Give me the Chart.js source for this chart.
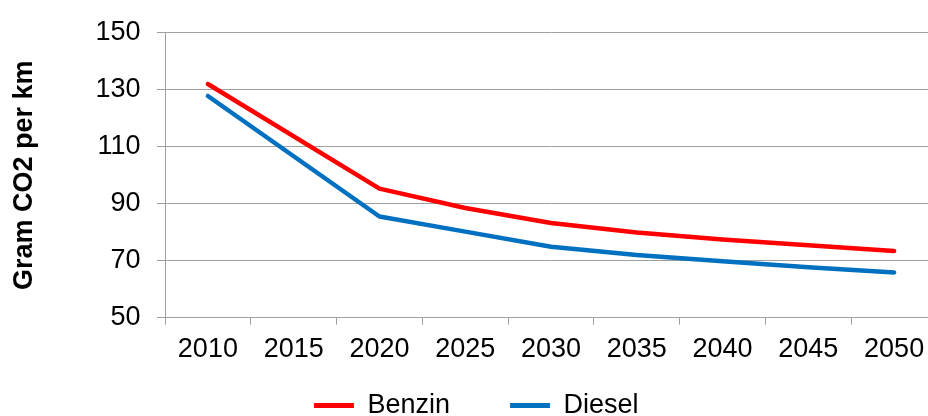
<!DOCTYPE html>
<html>
<head>
<meta charset="utf-8">
<script src="https://cdn.jsdelivr.net/npm/chart.js@4/dist/chart.umd.min.js"></script>
<style>
  html, body { margin: 0; padding: 0; background: #ffffff; overflow: hidden; width: 928px; height: 416px; }
  #wrap { position: relative; width: 937px; height: 416px; }
</style>
</head>
<body>
<div id="wrap"><canvas id="c"></canvas></div>
<script>
const years = ['2010', '2015', '2020', '2025', '2030', '2035', '2040', '2045', '2050'];
const benzin = [132, null, 95.3, 88.5, 83.2, 79.9, 77.4, 75.4, 73.4];
const diesel = [127.8, null, 85.5, 80.2, 74.9, 72.0, 69.8, 67.7, 65.9];
const yTitle = 'Gram CO2 per km';
const seriesNames = ['Benzin', 'Diesel'];

const FONT = "'Liberation Sans', Arial, sans-serif";
const GRID = '#a0a0a0';
Chart.defaults.color = '#000000';
Chart.defaults.font.family = FONT;

// let the x-axis labels draw below the (thin) x-axis box
const labelRoom = {
  id: 'labelRoom',
  afterLayout(chart) { chart.scales.x.bottom = chart.height; }
};

new Chart(document.getElementById('c'), {
  type: 'line',
  data: {
    labels: years,
    datasets: [
      { label: seriesNames[0], data: benzin, borderColor: '#ff0000', backgroundColor: '#ff0000',
        borderWidth: 4.5, pointRadius: 0, tension: 0, spanGaps: true, borderCapStyle: 'round', borderJoinStyle: 'round' },
      { label: seriesNames[1], data: diesel, borderColor: '#0070c0', backgroundColor: '#0070c0',
        borderWidth: 4.5, pointRadius: 0, tension: 0, spanGaps: true, borderCapStyle: 'round', borderJoinStyle: 'round' }
    ]
  },
  plugins: [labelRoom],
  options: {
    responsive: true,
    maintainAspectRatio: false,
    animation: false,
    layout: { padding: { left: 15.5, right: 0, top: 28.3, bottom: -13 } },
    plugins: {
      tooltip: { enabled: false },
      legend: {
        position: 'bottom',
        labels: {
          font: { size: 27, family: FONT },
          color: '#000000',
          boxWidth: 40,
          boxHeight: 5,
          padding: 60,
          generateLabels: (chart) => Chart.defaults.plugins.legend.labels.generateLabels(chart)
            .map(l => Object.assign(l, { lineWidth: 0, fillStyle: l.strokeStyle }))
        }
      }
    },
    scales: {
      x: {
        type: 'category',
        offset: true,
        afterFit: (s) => { s.height = 14.3; },
        grid: { display: true, offset: true, drawOnChartArea: false, drawTicks: true, tickLength: 7, color: GRID, lineWidth: 1 },
        border: { display: true, color: GRID, width: 1 },
        ticks: { font: { size: 27, family: FONT }, color: '#000000', padding: 8.3, autoSkip: false, maxRotation: 0, minRotation: 0 }
      },
      y: {
        min: 50,
        max: 150,
        afterFit: (s) => { s.width = 149.5; },
        grid: { color: GRID, lineWidth: 1, drawTicks: true, tickLength: 8 },
        border: { display: true, color: GRID, width: 1 },
        ticks: { stepSize: 20, font: { size: 27, family: FONT }, color: '#000000', padding: 16.5 },
        title: { display: true, text: yTitle, font: { size: 27, weight: 'bold', family: FONT }, color: '#000000', padding: { top: -7.5, bottom: 0 } }
      }
    }
  }
});
</script>
</body>
</html>
